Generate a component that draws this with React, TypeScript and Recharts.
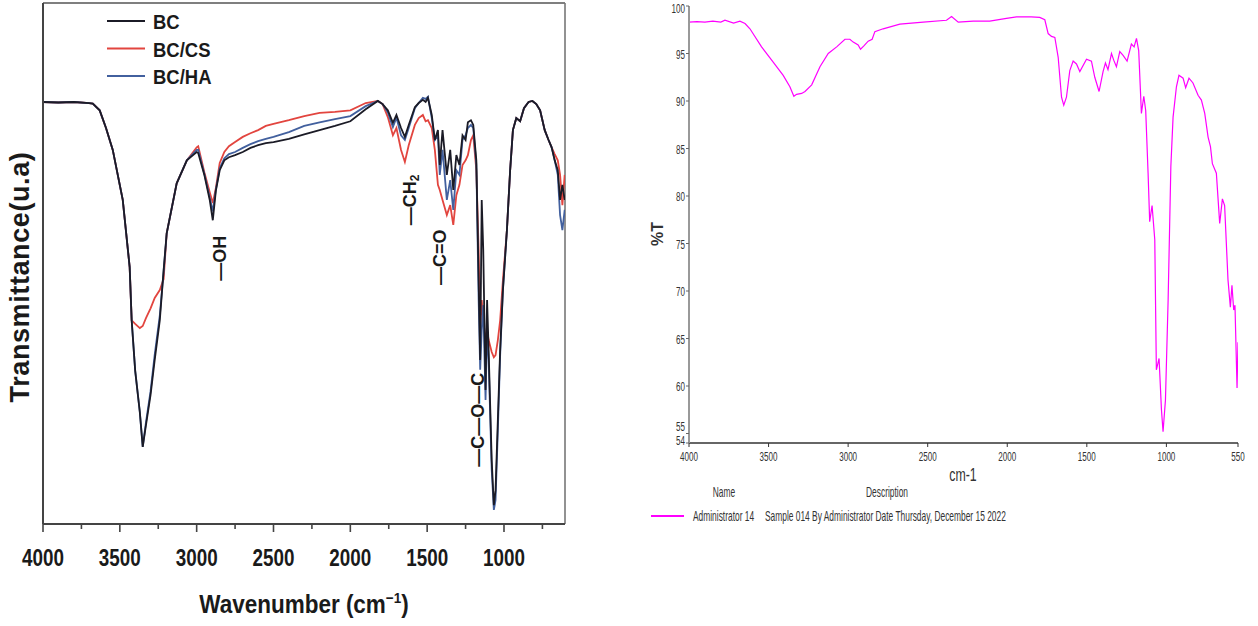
import { LineChart, Line, XAxis, YAxis, ReferenceLine, ReferenceDot } from 'recharts';

const FONT = '"Liberation Sans", Arial, Helvetica, sans-serif';

// ---- left panel: FTIR of BC, BC/CS and BC/HA (transmittance, arbitrary units 0-100) ----
const leftWave = [
  4000, 3900, 3800, 3700, 3676, 3631, 3590, 3546, 3481, 3436,
  3423, 3400, 3370, 3351, 3330, 3300, 3273, 3240, 3215, 3195,
  3130, 3064, 3000, 2990, 2950, 2915, 2895, 2875, 2850, 2820,
  2790, 2750, 2700, 2650, 2600, 2550, 2500, 2400, 2300, 2200,
  2100, 2000, 1900, 1821, 1790, 1756, 1723, 1700, 1670, 1645,
  1620, 1580, 1555, 1528, 1510, 1495, 1470, 1450, 1430, 1418,
  1400, 1372, 1350, 1330, 1310, 1290, 1270, 1250, 1235, 1215,
  1200, 1180, 1165, 1155, 1145, 1135, 1120, 1110, 1100, 1080,
  1066, 1055, 1040, 1025, 1007, 981, 960, 942, 920, 895,
  870, 840, 815, 790, 765, 750, 735, 710, 690, 670,
  650, 635, 620, 605,
];
const bcT = [
  81.0, 80.9, 81.0, 80.8, 80.7, 79.4, 76.0, 71.8, 62.2, 49.3,
  39.1, 29.4, 21.5, 14.8, 19.0, 24.8, 31.5, 39.1, 48.7, 55.8,
  65.4, 69.8, 71.4, 71.2, 67.0, 62.2, 58.3, 64.0, 67.9, 69.8,
  70.4, 70.8, 71.4, 72.2, 72.7, 73.1, 73.3, 73.9, 74.8, 75.6,
  76.4, 77.3, 79.6, 81.2, 80.6, 79.4, 77.0, 78.5, 76.0, 74.3,
  76.6, 80.0, 80.8, 81.4, 81.0, 81.8, 78.5, 73.7, 75.6, 68.9,
  75.6, 67.0, 71.8, 64.1, 70.8, 68.9, 74.6, 73.7, 77.1, 77.5,
  76.6, 69.8, 46.8, 31.5, 62.2, 52.6, 25.7, 43.0, 33.4, 12.3,
  3.6, 6.5, 20.0, 33.4, 44.9, 56.4, 67.9, 75.6, 77.9, 77.3,
  79.8, 81.0, 81.2, 80.6, 79.4, 77.5, 75.6, 73.7, 72.3, 69.8,
  67.9, 62.2, 65.1, 62.2,
];
const csT = [
  81.0, 80.9, 81.0, 80.8, 80.7, 79.4, 76.0, 71.8, 62.2, 49.3,
  39.1, 38.4, 37.6, 38.0, 39.5, 41.4, 43.4, 44.9, 47.0, 55.8,
  65.4, 69.8, 72.3, 72.5, 67.5, 63.7, 61.6, 64.5, 69.3, 71.4,
  72.5, 73.3, 74.3, 75.0, 75.6, 76.4, 76.8, 77.5, 78.3, 78.9,
  79.1, 79.4, 80.8, 81.2, 80.6, 78.1, 74.6, 76.0, 71.8, 69.5,
  72.7, 76.6, 77.9, 78.5, 77.3, 77.5, 76.0, 71.8, 65.1, 64.1,
  62.2, 59.3, 61.2, 57.4, 63.1, 65.1, 68.9, 69.8, 70.8, 73.7,
  74.6, 67.9, 52.6, 37.2, 43.0, 39.1, 35.3, 37.2, 35.3, 33.0,
  32.0, 32.4, 35.3, 39.1, 46.8, 56.4, 67.9, 75.6, 77.9, 77.3,
  79.8, 81.0, 81.2, 80.6, 79.4, 77.5, 75.6, 73.7, 72.3, 71.0,
  69.8, 67.0, 61.2, 67.0,
];
const haT = [
  81.0, 80.9, 81.0, 80.8, 80.7, 79.4, 76.0, 71.8, 62.2, 49.3,
  39.1, 29.4, 21.5, 14.8, 19.5, 25.5, 32.5, 40.0, 48.5, 55.8,
  65.4, 69.8, 71.8, 71.8, 67.2, 62.7, 60.0, 64.2, 68.3, 70.2,
  71.0, 71.4, 72.2, 72.9, 73.5, 73.9, 74.3, 75.2, 76.4, 77.1,
  77.7, 78.3, 80.2, 81.2, 80.6, 79.0, 76.2, 78.0, 74.6, 73.7,
  76.0, 79.8, 80.8, 81.8, 81.6, 82.0, 77.9, 73.7, 74.6, 67.0,
  71.8, 62.2, 66.0, 60.3, 67.9, 67.0, 73.7, 74.6, 76.0, 76.6,
  76.0, 69.0, 43.0, 29.6, 37.2, 42.0, 23.8, 37.2, 31.5, 10.4,
  2.7, 4.6, 18.0, 32.4, 44.9, 56.4, 67.9, 75.6, 77.9, 77.3,
  79.8, 81.0, 81.2, 80.6, 79.4, 77.5, 75.6, 73.7, 72.3, 69.8,
  67.0, 59.3, 56.4, 60.3,
];
const leftTicks = [4000, 3750, 3500, 3250, 3000, 2750, 2500, 2250, 2000, 1750, 1500, 1250, 1000, 750];
const leftSeries = [
  { key: 'bc', name: 'BC', color: '#1b1b26' },
  { key: 'cs', name: 'BC/CS', color: '#e2453f' },
  { key: 'ha', name: 'BC/HA', color: '#42609e' },
];
const bandLabels = [
  { w: 2850, t: 51.0, text: '—OH', sub: '' },
  { w: 1613, t: 62.2, text: '—CH', sub: '2' },
  { w: 1418, t: 51.2, text: '—C=O', sub: '' },
  { w: 1170, t: 20.0, text: '—C—O—C', sub: '' },
];

// ---- right panel: %T spectrum of sample 014 ----
const rightWave = [
  4000, 3950, 3900, 3850, 3800, 3774, 3720, 3680, 3648, 3617,
  3544, 3471, 3408, 3366, 3341, 3324, 3292, 3271, 3229, 3177,
  3125, 3072, 3020, 2989, 2968, 2937, 2922, 2901, 2874, 2849,
  2832, 2780, 2675, 2528, 2382, 2350, 2308, 2214, 2110, 2005,
  1942, 1850, 1796, 1764, 1743, 1722, 1701, 1680, 1659, 1645,
  1628, 1607, 1586, 1565, 1544, 1502, 1471, 1450, 1423, 1398,
  1383, 1367, 1345, 1331, 1314, 1293, 1272, 1247, 1220, 1203,
  1188, 1174, 1157, 1142, 1130, 1115, 1105, 1090, 1073, 1063,
  1046, 1031, 1021, 1006, 989, 972, 958, 937, 921, 895,
  879, 858, 833, 801, 780, 759, 738, 723, 711, 686,
  665, 648, 634, 613, 598, 588, 577, 569, 556, 550,
];
const rightT = [
  98.3, 98.35, 98.3, 98.4, 98.3, 98.5, 98.2, 98.4, 98.15, 97.6,
  95.7, 94.1, 92.7, 91.5, 90.5, 90.7, 90.8, 91.0, 91.7, 93.6,
  95.0, 95.7, 96.5, 96.5, 96.2, 95.9, 95.45, 95.8, 96.3, 96.5,
  97.3, 97.6, 98.1, 98.3, 98.5, 98.9, 98.3, 98.4, 98.4, 98.7,
  98.85, 98.85, 98.8, 98.55, 97.1, 96.8, 96.7, 94.6, 90.4, 89.55,
  90.4, 93.2, 94.2, 93.9, 93.1, 94.4, 94.2, 92.5, 91.0, 93.1,
  94.0, 93.3, 95.0, 94.3, 93.6, 95.2, 94.8, 94.2, 96.0, 95.7,
  96.6, 95.3, 88.7, 90.5, 89.0, 82.4, 77.3, 79.0, 75.4, 61.7,
  62.9, 57.5, 55.2, 58.5, 69.1, 83.1, 88.3, 91.5, 92.7, 92.4,
  91.4, 92.4, 91.9, 90.6, 90.1, 88.7, 86.2, 85.2, 83.4, 82.4,
  77.1, 79.7, 79.0, 71.2, 68.3, 70.6, 68.0, 68.5, 59.8, 64.6,
];
const rightXTicks = [4000, 3500, 3000, 2500, 2000, 1500, 1000, 550];
const rightYTicks = [54, 55, 60, 65, 70, 75, 80, 85, 90, 95, 100];

const leftRows = leftWave.map((w, i) => ({ w, bc: bcT[i], cs: csT[i], ha: haT[i] }));
const rightRows = rightWave.map((w, i) => ({ w, t: rightT[i] }));

function LeftTick(props: any) {
  const { x, y, payload } = props;
  const major = payload.value % 500 === 0;
  return (
    <g>
      <line x1={x} x2={x} y1={y} y2={y + (major ? 8 : 5)} stroke="#444" strokeWidth={1.6} />
      {major && (
        <text transform={`translate(${x},${y + 42}) scale(0.82,1)`} textAnchor="middle"
          fontFamily={FONT} fontWeight="bold" fontSize={23} fill="#1a1a1a">
          {payload.value}
        </text>
      )}
    </g>
  );
}

function RightXTick(props: any) {
  const { x, y, payload } = props;
  return (
    <text transform={`translate(${x},${y + 12}) scale(0.62,1)`} textAnchor="middle"
      fontFamily={FONT} fontSize={13} fill="#333">
      {payload.value}
    </text>
  );
}

// 54/55 sit close together and 100 is at the very top, so nudge them a little
const yTickShift: Record<number, number> = { 54: 2, 55: -3, 100: 7 };

function RightYTick(props: any) {
  const { x, y, payload } = props;
  const dy = yTickShift[payload.value] ?? 5;
  return (
    <text transform={`translate(${x},${y + dy}) scale(0.62,1)`} textAnchor="end"
      fontFamily={FONT} fontSize={13} fill="#333">
      {payload.value}
    </text>
  );
}

const bandLabel = (text: string, sub: string) => (props: any) => {
  const vb = props.viewBox || {};
  const cx = vb.x + (vb.width || 0) / 2;
  const cy = vb.y + (vb.height || 0) / 2;
  return (
    <text transform={`translate(${cx},${cy}) rotate(-90)`} textAnchor="middle" dominantBaseline="central"
      fontFamily={FONT} fontWeight="bold" fontSize={18} fill="#1a1a1a">
      {text}
      {sub && <tspan fontSize={12} dy={5}>{sub}</tspan>}
    </text>
  );
};

export default function App() {
  return (
    <div style={{ position: 'absolute', left: 0, top: 0, width: 1258, height: 626, background: '#fff', overflow: 'hidden' }}>
      <div style={{ position: 'absolute', left: 0, top: 0 }}>
        <LineChart width={600} height={626} data={leftRows} margin={{ top: 3, right: 35, bottom: 0, left: 0 }}>
          <XAxis dataKey="w" type="number" domain={[603, 4000]} reversed allowDataOverflow ticks={leftTicks}
            interval={0} height={102} tickSize={0} tickMargin={0} tickLine={false} tick={<LeftTick />}
            axisLine={{ stroke: '#444', strokeWidth: 2 }} />
          <YAxis type="number" domain={[0, 100]} width={43} tick={false} tickLine={false}
            axisLine={{ stroke: '#444', strokeWidth: 2 }} />
          <ReferenceLine y={100} stroke="#555" strokeWidth={1.6} />
          <ReferenceLine x={603} stroke="#777" strokeWidth={1.6} />
          <Line dataKey="cs" stroke={leftSeries[1].color} strokeWidth={1.8} dot={false} type="linear" isAnimationActive={false} />
          <Line dataKey="ha" stroke={leftSeries[2].color} strokeWidth={1.8} dot={false} type="linear" isAnimationActive={false} />
          <Line dataKey="bc" stroke={leftSeries[0].color} strokeWidth={1.8} dot={false} type="linear" isAnimationActive={false} />
          {bandLabels.map((b) => (
            <ReferenceDot key={b.text} x={b.w} y={b.t} r={0} fill="none" stroke="none" label={bandLabel(b.text, b.sub)} />
          ))}
        </LineChart>
      </div>
      <div style={{ position: 'absolute', left: 629, top: 0 }}>
        <LineChart width={629} height={626} data={rightRows} margin={{ top: 6, right: 20, bottom: 138, left: 0 }}>
          <XAxis dataKey="w" type="number" domain={[550, 4000]} reversed allowDataOverflow ticks={rightXTicks}
            interval={0} height={45} tickSize={4} tickMargin={2} tick={<RightXTick />}
            tickLine={{ stroke: '#333' }} axisLine={{ stroke: '#333', strokeWidth: 1.5 }} />
          <YAxis type="number" domain={[54, 100]} ticks={rightYTicks} interval={0} width={60}
            tickSize={3} tickMargin={1} tick={<RightYTick />} tickLine={{ stroke: '#666' }}
            axisLine={{ stroke: '#999', strokeWidth: 2 }} />
          <Line dataKey="t" stroke="#ff00ff" strokeWidth={1.2} dot={false} type="linear" isAnimationActive={false} />
        </LineChart>
      </div>
      <svg width={1258} height={626} style={{ position: 'absolute', left: 0, top: 0, pointerEvents: 'none' }}>
        {/* left legend */}
        {leftSeries.map((s, i) => (
          <g key={s.key}>
            <line x1={107} x2={145} y1={21 + i * 27.5} y2={21 + i * 27.5} stroke={s.color} strokeWidth={2.2} />
            <text transform={`translate(153,${29 + i * 27.5}) scale(0.88,1)`} fontFamily={FONT} fontWeight="bold"
              fontSize={21} fill="#1a1a1a">{s.name}</text>
          </g>
        ))}
        {/* left axis titles */}
        <text transform="translate(29,277) rotate(-90)" textAnchor="middle" fontFamily={FONT} fontWeight="bold"
          fontSize={27} letterSpacing={0.6} fill="#1a1a1a">Transmittance(u.a)</text>
        <text transform="translate(304,613) scale(0.9,1)" textAnchor="middle" fontFamily={FONT} fontWeight="bold"
          fontSize={25} fill="#1a1a1a">
          Wavenumber (cm<tspan fontSize={15} dy={-10}>−1</tspan><tspan dy={10}>)</tspan>
        </text>
        {/* right axis titles */}
        <text transform="translate(663,234) rotate(-90)" textAnchor="middle" fontFamily={FONT} fontWeight="bold"
          fontSize={16} fill="#333">%T</text>
        <text transform="translate(963,481) scale(0.65,1)" textAnchor="middle" fontFamily={FONT}
          fontSize={19} fill="#333">cm-1</text>
        {/* right legend */}
        <text transform="translate(724,497) scale(0.6,1)" textAnchor="middle" fontFamily={FONT} fontSize={14} fill="#333">Name</text>
        <text transform="translate(887,497) scale(0.6,1)" textAnchor="middle" fontFamily={FONT} fontSize={14} fill="#333">Description</text>
        <line x1={651} x2={684} y1={516} y2={516} stroke="#ff00ff" strokeWidth={2} />
        <text transform="translate(693,521) scale(0.6,1)" fontFamily={FONT} fontSize={14} fill="#333">Administrator 14</text>
        <text transform="translate(765,521) scale(0.6,1)" fontFamily={FONT} fontSize={14} fill="#333">
          Sample 014 By Administrator Date Thursday, December 15 2022
        </text>
      </svg>
    </div>
  );
}
